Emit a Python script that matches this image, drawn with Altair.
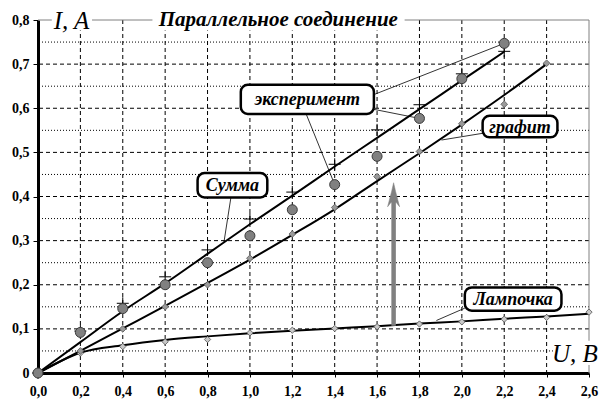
import altair as alt
import pandas as pd

# ---------------- data ----------------
U_all = [0.0, 0.2, 0.4, 0.6, 0.8, 1.0, 1.2, 1.4, 1.6, 1.8, 2.0, 2.2, 2.4, 2.6]

# Лампочка (lamp): measured points and trend curve, U = 0..2.6
lamp_pts = [0.0, 0.045, 0.060, 0.071, 0.076, 0.091, 0.097, 0.101, 0.105, 0.111, 0.116, 0.122, 0.126, 0.138]
lamp_fit = [0.0, 0.046, 0.063, 0.075, 0.083, 0.090, 0.096, 0.101, 0.106, 0.112, 0.117, 0.123, 0.128, 0.134]

# графит (graphite): U = 0..2.4
graphite_pts = [0.0, 0.050, 0.100, 0.150, 0.200, 0.260, 0.315, 0.375, 0.445, 0.502, 0.565, 0.609, 0.702]
graphite_fit = [0.0, 0.050, 0.101, 0.152, 0.204, 0.257, 0.313, 0.371, 0.435, 0.498, 0.563, 0.630, 0.700]

# Сумма (sum): U = 0..2.2
sum_pts = [0.0, 0.095, 0.158, 0.218, 0.279, 0.349, 0.410, 0.473, 0.551, 0.608, 0.678, 0.729]
sum_fit = [0.0, 0.070, 0.140, 0.203, 0.270, 0.337, 0.402, 0.468, 0.533, 0.598, 0.663, 0.728]

# эксперимент (experiment): U = 0..2.2
exp_pts = [0.0, 0.092, 0.146, 0.200, 0.250, 0.311, 0.370, 0.427, 0.491, 0.577, 0.667, 0.747]

x_domain = [0.0, 2.6]
y_domain = [0.0, 0.8]
x_ticks = U_all
y_ticks = [0.0, 0.1, 0.2, 0.3, 0.4, 0.5, 0.6, 0.7, 0.8]
x_grid = [0.2, 0.4, 0.6, 0.8, 1.0, 1.2, 1.4, 1.6, 1.8, 2.0, 2.2, 2.4]
y_grid_major = [0.1, 0.2, 0.3, 0.4, 0.5, 0.6, 0.7]
y_grid_minor = [0.05, 0.15, 0.25, 0.35, 0.45, 0.55, 0.65, 0.75]

title_text = "Параллельное соединение"
y_title = "I, A"
x_title = "U, B"

# callout boxes (data units)
box_labels = ["эксперимент", "Сумма", "графит", "Лампочка"]
box_u1 = [0.957, 0.753, 2.098, 2.014]
box_u2 = [1.585, 1.082, 2.451, 2.470]
box_i1 = [0.587, 0.398, 0.534, 0.141]
box_i2 = [0.653, 0.453, 0.583, 0.194]

# leader lines (data units)
lead_u1 = [1.58, 1.58, 1.267, 0.91, 2.108, 2.014]
lead_i1 = [0.630, 0.598, 0.585, 0.397, 0.544, 0.147]
lead_u2 = [2.20, 1.80, 1.40, 0.877, 1.904, 1.880]
lead_i2 = [0.747, 0.577, 0.427, 0.295, 0.528, 0.119]

# arrow from lamp curve up towards graphite line
arrow_u = 1.678
arrow_i0 = 0.107
arrow_i1 = 0.396
arrow_head_i = 0.404

# ---------------- frames ----------------
df_lamp = pd.DataFrame({"U": U_all, "pts": lamp_pts, "fit": lamp_fit})
df_gr = pd.DataFrame({"U": U_all[:13], "pts": graphite_pts, "fit": graphite_fit})
df_sum = pd.DataFrame({"U": U_all[:12], "pts": sum_pts, "fit": sum_fit})
df_exp = pd.DataFrame({"U": U_all[:12], "pts": exp_pts})
df_boxes = pd.DataFrame({"label": box_labels, "u1": box_u1, "u2": box_u2,
                         "i1": box_i1, "i2": box_i2})
df_boxes["uc"] = (df_boxes.u1 + df_boxes.u2) / 2
df_boxes["ic"] = (df_boxes.i1 + df_boxes.i2) / 2
df_lead = pd.DataFrame({"u1": lead_u1, "i1": lead_i1, "u2": lead_u2, "i2": lead_i2})

xs = alt.Scale(domain=x_domain, nice=False, zero=False)
ys = alt.Scale(domain=y_domain, nice=False, zero=False)

SERIF = "Liberation Serif"

x_axis = alt.Axis(values=x_ticks, title=None, grid=False, ticks=True, tickSize=4,
                  tickColor="black", tickWidth=1,
                  labelExpr="replace(format(datum.value, '.1f'), '.', ',')",
                  labelFont=SERIF, labelFontWeight="bold", labelFontSize=14,
                  labelColor="black", labelPadding=7, domainColor="black",
                  domainWidth=3, labelFlush=False, labelOverlap=False)
y_axis = alt.Axis(values=y_ticks, title=None, grid=False, tickSize=5, tickColor="black",
                  tickWidth=1,
                  labelExpr="datum.value == 0 ? '0' : replace(format(datum.value, '.1f'), '.', ',')",
                  labelFont=SERIF, labelFontWeight="bold", labelFontSize=14,
                  labelColor="black", labelPadding=4, domainColor="black",
                  domainWidth=3, labelFlush=False, labelOverlap=False)


def X(f):
    return alt.X(f, type="quantitative", scale=xs, axis=x_axis)


def Y(f):
    return alt.Y(f, type="quantitative", scale=ys, axis=y_axis)


vgrid = alt.Chart(pd.DataFrame({"U": x_grid})).mark_rule(
    color="black", strokeWidth=1, strokeDash=[4, 3]).encode(x=X("U"))
hgrid = alt.Chart(pd.DataFrame({"I": y_grid_major})).mark_rule(
    color="black", strokeWidth=1, strokeDash=[4, 3]).encode(y=Y("I"))
hgrid2 = alt.Chart(pd.DataFrame({"I": y_grid_minor})).mark_rule(
    color="black", strokeWidth=1, strokeDash=[1, 2]).encode(y=Y("I"))

frame = pd.DataFrame({"u1": [x_domain[0], x_domain[1]], "u2": [x_domain[1], x_domain[1]],
                      "i1": [y_domain[1], y_domain[0]], "i2": [y_domain[1], y_domain[1]]})
frame_layer = alt.Chart(frame).mark_rule(color="#808080", strokeWidth=1).encode(
    x=X("u1"), x2="u2", y=Y("i1"), y2="i2")

# white backgrounds for the texts sitting on the frame
bg = pd.DataFrame({"u1": [0.065, 0.54, 2.43], "u2": [0.255, 1.73, 2.66],
                   "i1": [0.776, 0.776, 0.018], "i2": [0.83, 0.83, 0.073]})
bg_layer = alt.Chart(bg).mark_rect(fill="white").encode(
    x=X("u1"), x2="u2", y=Y("i1"), y2="i2")

txt = pd.DataFrame({"t": [title_text], "u": [1.134], "i": [0.8]})
title_layer = alt.Chart(txt).mark_text(font=SERIF, fontSize=21, fontWeight="bold",
                                       fontStyle="italic", color="black", baseline="middle",
                                       dy=0).encode(x=X("u"), y=Y("i"), text="t:N")
ytl = alt.Chart(pd.DataFrame({"t": [y_title], "u": [0.158], "i": [0.8]})).mark_text(
    font=SERIF, fontSize=25, fontStyle="italic", color="black", baseline="middle", dy=1).encode(
    x=X("u"), y=Y("i"), text="t:N")
xtl = alt.Chart(pd.DataFrame({"t": [x_title], "u": [2.533], "i": [0.045]})).mark_text(
    font=SERIF, fontSize=25, fontStyle="italic", color="black", baseline="middle", dy=1).encode(
    x=X("u"), y=Y("i"), text="t:N")

line_kw = dict(color="black", strokeWidth=2)
lamp_line = alt.Chart(df_lamp).mark_line(interpolate="monotone", **line_kw).encode(x=X("U"), y=Y("fit"))
gr_line = alt.Chart(df_gr).mark_line(interpolate="monotone", **line_kw).encode(x=X("U"), y=Y("fit"))
sum_line = alt.Chart(df_sum).mark_line(interpolate="monotone", **line_kw).encode(x=X("U"), y=Y("fit"))

leaders = alt.Chart(df_lead).mark_rule(color="black", strokeWidth=0.8).encode(
    x=X("u1"), y=Y("i1"), x2="u2", y2="i2")

lamp_marks = alt.Chart(df_lamp).mark_point(shape="diamond", filled=True, size=40,
                                           fill="#c8c8c8", stroke="#555555", strokeWidth=0.8,
                                           opacity=1).encode(x=X("U"), y=Y("pts"))
gr_marks = alt.Chart(df_gr).mark_point(shape="diamond", filled=True, size=45,
                                       fill="#9a9a9a", stroke="#555555", strokeWidth=0.8,
                                       opacity=1).encode(x=X("U"), y=Y("pts"))
plus_marks = alt.Chart(df_sum).mark_point(shape="M-1,0L1,0M0,-1L0,1", filled=False, size=144,
                                          stroke="black", strokeWidth=1, opacity=1).encode(
    x=X("U"), y=Y("pts"))
exp_marks = alt.Chart(df_exp).mark_point(shape="circle", filled=True, size=100,
                                         fill="#808080", stroke="#3a3a3a", strokeWidth=1,
                                         opacity=1).encode(x=X("U"), y=Y("pts"))

boxes = alt.Chart(df_boxes).mark_rect(cornerRadius=7, fill="white", stroke="black",
                                      strokeWidth=2.5).encode(x=X("u1"), x2="u2", y=Y("i1"), y2="i2")
box_text = alt.Chart(df_boxes).mark_text(font=SERIF, fontSize=18, fontWeight="bold",
                                         fontStyle="italic", color="black", baseline="middle",
                                         dy=1).encode(x=X("uc"), y=Y("ic"), text="label:N")

arrow_df = pd.DataFrame({"u": [arrow_u], "i0": [arrow_i0], "i1": [arrow_i1], "ih": [arrow_head_i]})
arrow_shaft = alt.Chart(arrow_df).mark_rule(color="#808080", strokeWidth=4.5).encode(
    x=X("u"), y=Y("i0"), y2="i1")
arrow_head = alt.Chart(arrow_df).mark_point(
    shape="M0,-1L0.16,-0.3L0.5,1L0.2,0.62L-0.2,0.62L-0.5,1L-0.16,-0.3Z",
    filled=True, fill="#808080", stroke="#808080", strokeWidth=0.5, size=576, opacity=1).encode(
    x=X("u"), y=Y("ih"))

chart = alt.layer(
    vgrid, hgrid, hgrid2, frame_layer, bg_layer,
    title_layer, ytl, xtl,
    lamp_line, gr_line, sum_line, leaders, arrow_shaft, arrow_head,
    lamp_marks, gr_marks, plus_marks, exp_marks,
    boxes, box_text,
).properties(
    width=551, height=353,
    padding={"left": 30, "top": 12, "right": 10, "bottom": 32},
    autosize=alt.AutoSizeParams(type="none"),
    background="white",
).configure_view(strokeWidth=0)

chart.save("out.html", embed_options={"renderer": "svg", "actions": False})
